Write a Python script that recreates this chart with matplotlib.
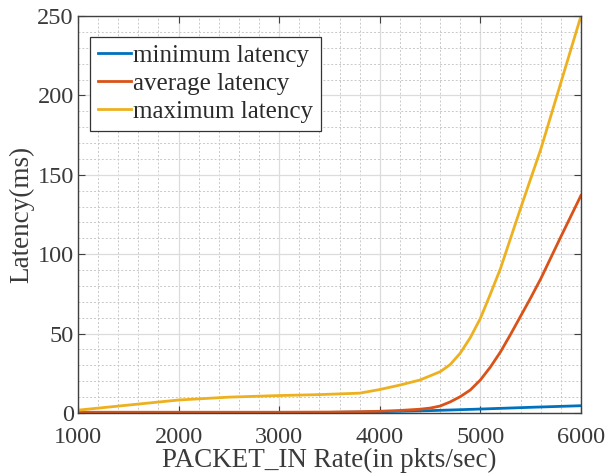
import numpy as np
import matplotlib.pyplot as plt
from matplotlib.ticker import MultipleLocator

plt.rcParams['font.family'] = ['Liberation Serif', 'DejaVu Serif']

# values
rate_min = [1000, 2000, 3000, 3500, 4000, 4500, 5000, 5500, 6000]
lat_min  = [0.2, 0.2, 0.3, 0.4, 0.8, 1.5, 2.5, 3.6, 4.6]

rate_avg = [1000, 2000, 3000, 3500, 3800, 4000, 4200, 4400, 4500, 4600, 4700,
            4800, 4900, 5000, 5100, 5200, 5300, 5400, 5500, 5600, 5800, 6000]
lat_avg  = [0.5, 0.5, 0.5, 0.6, 0.8, 1.1, 1.6, 2.4, 3.1, 4.4, 7.0,
            10.3, 14.5, 20.8, 29, 38.5, 49.5, 61, 72.5, 84.5, 111, 137]

rate_max = [1000, 1500, 2000, 2500, 3000, 3400, 3800, 4000, 4200, 4400, 4600,
            4700, 4800, 4900, 5000, 5100, 5200, 5300, 5400, 5600, 5800, 6000]
lat_max  = [1.8, 5, 8.2, 10, 11, 11.6, 12.5, 14.8, 17.6, 20.8, 26,
            30.5, 37.7, 47.5, 59.6, 75, 91, 110, 129, 166, 208, 250]

labels = ['minimum latency', 'average latency', 'maximum latency']
colors = ['#0072BD', '#D95319', '#EDB120']

fig = plt.figure(figsize=(6.06, 4.73), dpi=100)
ax = fig.add_axes([0.1287, 0.1268, 0.8300, 0.8394])

ax.plot(rate_min, lat_min, color=colors[0], lw=2, label=labels[0])
ax.plot(rate_avg, lat_avg, color=colors[1], lw=2, label=labels[1])
ax.plot(rate_max, lat_max, color=colors[2], lw=2, label=labels[2])

ax.set_xlim(1000, 6000)
ax.set_ylim(0, 250)
ax.xaxis.set_major_locator(MultipleLocator(1000))
ax.xaxis.set_minor_locator(MultipleLocator(200))
ax.yaxis.set_major_locator(MultipleLocator(50))
ax.yaxis.set_minor_locator(MultipleLocator(10))

ax.grid(which='major', color='#dcdcdc', lw=0.9, ls='-')
ax.grid(which='minor', color='#c8c8c8', lw=0.7, ls=(0, (2, 2)))
ax.set_axisbelow(True)

axc = '#404040'
for s in ax.spines.values():
    s.set_color(axc)
    s.set_linewidth(1.0)
ax.tick_params(which='major', direction='in', length=5, width=0.8, color=axc,
               top=True, right=True, labelsize=17.5, labelcolor='#3a3a3a')
ax.tick_params(axis='x', which='major', pad=10)
ax.tick_params(axis='y', which='major', pad=3)
ax.tick_params(which='minor', length=0)

ax.set_xlabel('PACKET_IN Rate(in pkts/sec)', fontsize=19.5, color='#3a3a3a', labelpad=0)
ax.set_ylabel('Latency(ms)', fontsize=19.5, color='#3a3a3a', labelpad=2)

leg = ax.legend(loc='upper left', bbox_to_anchor=(0.024, 0.947), fontsize=18,
                frameon=True, fancybox=False, handlelength=1.35, handletextpad=0.08,
                borderpad=0.3, labelspacing=0.22, borderaxespad=0)
leg.get_frame().set_edgecolor('#333333')
leg.get_frame().set_linewidth(0.9)
leg.get_frame().set_alpha(1)
for t in leg.get_texts():
    t.set_color('#2a2a2a')

fig.savefig('out.png', dpi=100)
